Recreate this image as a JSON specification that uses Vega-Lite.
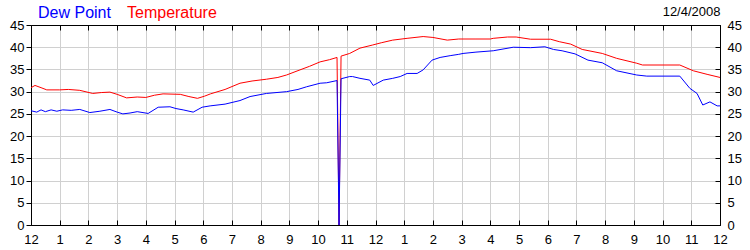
{
  "$schema": "https://vega.github.io/schema/vega-lite/v6.json",
  "width": 689,
  "height": 200,
  "autosize": {"type": "none"},
  "padding": {"left": 31, "top": 25, "right": 30, "bottom": 25},
  "background": "white",
  "config": {
    "view": {"stroke": "black", "strokeWidth": 1},
    "axis": {"labelFont": "Liberation Sans", "labelFontSize": 13, "labelColor": "black", "domainColor": "black", "tickColor": "black", "gridColor": "#d0d0d0", "gridOpacity": 1}
  },
  "data": {"values": [
    {"h": 0.0, "s": "Temperature", "v": 30.9},
    {"h": 0.14, "s": "Temperature", "v": 31.4},
    {"h": 0.35, "s": "Temperature", "v": 30.9},
    {"h": 0.55, "s": "Temperature", "v": 30.4},
    {"h": 1.0, "s": "Temperature", "v": 30.4},
    {"h": 1.3, "s": "Temperature", "v": 30.5},
    {"h": 1.7, "s": "Temperature", "v": 30.3},
    {"h": 2.15, "s": "Temperature", "v": 29.6},
    {"h": 2.45, "s": "Temperature", "v": 29.8},
    {"h": 2.75, "s": "Temperature", "v": 29.9},
    {"h": 3.0, "s": "Temperature", "v": 29.4},
    {"h": 3.33, "s": "Temperature", "v": 28.6},
    {"h": 3.7, "s": "Temperature", "v": 28.8},
    {"h": 4.0, "s": "Temperature", "v": 28.7},
    {"h": 4.3, "s": "Temperature", "v": 29.2},
    {"h": 4.6, "s": "Temperature", "v": 29.5},
    {"h": 5.2, "s": "Temperature", "v": 29.4},
    {"h": 5.5, "s": "Temperature", "v": 28.9},
    {"h": 5.8, "s": "Temperature", "v": 28.5},
    {"h": 6.05, "s": "Temperature", "v": 29.0},
    {"h": 6.25, "s": "Temperature", "v": 29.5},
    {"h": 6.76, "s": "Temperature", "v": 30.5},
    {"h": 7.28, "s": "Temperature", "v": 31.9},
    {"h": 7.7, "s": "Temperature", "v": 32.4},
    {"h": 8.2, "s": "Temperature", "v": 32.8},
    {"h": 8.6, "s": "Temperature", "v": 33.2},
    {"h": 8.9, "s": "Temperature", "v": 33.75},
    {"h": 9.37, "s": "Temperature", "v": 34.9},
    {"h": 9.7, "s": "Temperature", "v": 35.7},
    {"h": 10.07, "s": "Temperature", "v": 36.7},
    {"h": 10.4, "s": "Temperature", "v": 37.2},
    {"h": 10.66, "s": "Temperature", "v": 37.7},
    {"h": 10.73, "s": "Temperature", "v": 0},
    {"h": 10.8, "s": "Temperature", "v": 38.0},
    {"h": 11.1, "s": "Temperature", "v": 38.6},
    {"h": 11.46, "s": "Temperature", "v": 39.8},
    {"h": 11.9, "s": "Temperature", "v": 40.5},
    {"h": 12.2, "s": "Temperature", "v": 41.0},
    {"h": 12.6, "s": "Temperature", "v": 41.6},
    {"h": 13.1, "s": "Temperature", "v": 42.0},
    {"h": 13.66, "s": "Temperature", "v": 42.4},
    {"h": 14.0, "s": "Temperature", "v": 42.2},
    {"h": 14.5, "s": "Temperature", "v": 41.6},
    {"h": 14.9, "s": "Temperature", "v": 41.85},
    {"h": 15.5, "s": "Temperature", "v": 41.85},
    {"h": 16.0, "s": "Temperature", "v": 41.85},
    {"h": 16.1, "s": "Temperature", "v": 42.0},
    {"h": 16.6, "s": "Temperature", "v": 42.3},
    {"h": 16.9, "s": "Temperature", "v": 42.3},
    {"h": 17.4, "s": "Temperature", "v": 41.8},
    {"h": 18.1, "s": "Temperature", "v": 41.8},
    {"h": 18.4, "s": "Temperature", "v": 41.25},
    {"h": 18.8, "s": "Temperature", "v": 40.7},
    {"h": 19.2, "s": "Temperature", "v": 39.5},
    {"h": 19.9, "s": "Temperature", "v": 38.6},
    {"h": 20.4, "s": "Temperature", "v": 37.5},
    {"h": 21.1, "s": "Temperature", "v": 36.4},
    {"h": 21.3, "s": "Temperature", "v": 36.0},
    {"h": 22.6, "s": "Temperature", "v": 36.0},
    {"h": 23.07, "s": "Temperature", "v": 34.7},
    {"h": 23.55, "s": "Temperature", "v": 33.9},
    {"h": 24.0, "s": "Temperature", "v": 33.2},
    {"h": 0.0, "s": "Dew Point", "v": 25.7},
    {"h": 0.2, "s": "Dew Point", "v": 25.4},
    {"h": 0.35, "s": "Dew Point", "v": 25.9},
    {"h": 0.5, "s": "Dew Point", "v": 25.5},
    {"h": 0.7, "s": "Dew Point", "v": 25.9},
    {"h": 0.9, "s": "Dew Point", "v": 25.6},
    {"h": 1.1, "s": "Dew Point", "v": 25.9},
    {"h": 1.4, "s": "Dew Point", "v": 25.8},
    {"h": 1.7, "s": "Dew Point", "v": 26.0},
    {"h": 2.05, "s": "Dew Point", "v": 25.3},
    {"h": 2.4, "s": "Dew Point", "v": 25.6},
    {"h": 2.75, "s": "Dew Point", "v": 26.0},
    {"h": 3.0, "s": "Dew Point", "v": 25.4},
    {"h": 3.2, "s": "Dew Point", "v": 25.0},
    {"h": 3.45, "s": "Dew Point", "v": 25.2},
    {"h": 3.7, "s": "Dew Point", "v": 25.5},
    {"h": 4.08, "s": "Dew Point", "v": 25.1},
    {"h": 4.43, "s": "Dew Point", "v": 26.5},
    {"h": 4.84, "s": "Dew Point", "v": 26.6},
    {"h": 5.05, "s": "Dew Point", "v": 26.2},
    {"h": 5.3, "s": "Dew Point", "v": 25.9},
    {"h": 5.65, "s": "Dew Point", "v": 25.4},
    {"h": 5.96, "s": "Dew Point", "v": 26.5},
    {"h": 6.24, "s": "Dew Point", "v": 26.8},
    {"h": 6.76, "s": "Dew Point", "v": 27.2},
    {"h": 7.28, "s": "Dew Point", "v": 28.0},
    {"h": 7.63, "s": "Dew Point", "v": 28.9},
    {"h": 8.2, "s": "Dew Point", "v": 29.6},
    {"h": 8.9, "s": "Dew Point", "v": 30.0},
    {"h": 9.3, "s": "Dew Point", "v": 30.5},
    {"h": 9.6, "s": "Dew Point", "v": 31.1},
    {"h": 10.07, "s": "Dew Point", "v": 31.9},
    {"h": 10.3, "s": "Dew Point", "v": 32.0},
    {"h": 10.66, "s": "Dew Point", "v": 32.5},
    {"h": 10.73, "s": "Dew Point", "v": 0},
    {"h": 10.8, "s": "Dew Point", "v": 32.9},
    {"h": 11.1, "s": "Dew Point", "v": 33.4},
    {"h": 11.2, "s": "Dew Point", "v": 33.4},
    {"h": 11.46, "s": "Dew Point", "v": 33.0},
    {"h": 11.8, "s": "Dew Point", "v": 32.6},
    {"h": 11.92, "s": "Dew Point", "v": 31.4},
    {"h": 12.27, "s": "Dew Point", "v": 32.6},
    {"h": 12.6, "s": "Dew Point", "v": 33.0},
    {"h": 12.86, "s": "Dew Point", "v": 33.4},
    {"h": 13.1, "s": "Dew Point", "v": 34.1},
    {"h": 13.45, "s": "Dew Point", "v": 34.1},
    {"h": 13.66, "s": "Dew Point", "v": 34.9},
    {"h": 13.97, "s": "Dew Point", "v": 37.1},
    {"h": 14.25, "s": "Dew Point", "v": 37.7},
    {"h": 14.6, "s": "Dew Point", "v": 38.1},
    {"h": 14.9, "s": "Dew Point", "v": 38.4},
    {"h": 15.05, "s": "Dew Point", "v": 38.6},
    {"h": 15.5, "s": "Dew Point", "v": 38.9},
    {"h": 16.1, "s": "Dew Point", "v": 39.2},
    {"h": 16.8, "s": "Dew Point", "v": 40.0},
    {"h": 17.4, "s": "Dew Point", "v": 39.9},
    {"h": 17.9, "s": "Dew Point", "v": 40.1},
    {"h": 18.2, "s": "Dew Point", "v": 39.5},
    {"h": 18.5, "s": "Dew Point", "v": 39.2},
    {"h": 18.95, "s": "Dew Point", "v": 38.5},
    {"h": 19.4, "s": "Dew Point", "v": 37.1},
    {"h": 19.9, "s": "Dew Point", "v": 36.5},
    {"h": 20.4, "s": "Dew Point", "v": 34.7},
    {"h": 21.1, "s": "Dew Point", "v": 33.75},
    {"h": 21.45, "s": "Dew Point", "v": 33.5},
    {"h": 22.6, "s": "Dew Point", "v": 33.5},
    {"h": 22.95, "s": "Dew Point", "v": 30.75},
    {"h": 23.2, "s": "Dew Point", "v": 29.6},
    {"h": 23.4, "s": "Dew Point", "v": 27.0},
    {"h": 23.65, "s": "Dew Point", "v": 27.7},
    {"h": 23.9, "s": "Dew Point", "v": 26.8},
    {"h": 24.0, "s": "Dew Point", "v": 26.8}
  ]},
  "layer": [
    {
      "transform": [{"filter": "datum.s === 'Temperature'"}],
      "mark": {"type": "line", "strokeWidth": 1, "interpolate": "linear"},
      "encoding": {
        "x": {"field": "h", "type": "quantitative", "scale": {"domain": [0, 24], "nice": false, "zero": false},
          "axis": {"orient": "bottom", "title": null, "values": [0,1,2,3,4,5,6,7,8,9,10,11,12,13,14,15,16,17,18,19,20,21,22,23,24], "labelExpr": "datum.value % 12 === 0 ? '12' : '' + (datum.value % 12)", "tickSize": -5, "labelPadding": 13, "grid": true, "labelFlush": false, "labelOverlap": false}},
        "y": {"field": "v", "type": "quantitative", "scale": {"domain": [0, 45], "nice": false},
          "axis": {"orient": "left", "title": null, "values": [0,5,10,15,20,25,30,35,40,45], "tickSize": 5, "labelPadding": 2, "grid": true}},
        "color": {"field": "s", "type": "nominal", "scale": {"domain": ["Dew Point", "Temperature"], "range": ["#0000ff", "#ff0000"]},
          "legend": {"orient": "none", "legendX": -9, "legendY": -20, "direction": "horizontal", "title": null, "symbolSize": 0, "symbolOpacity": 0, "symbolStrokeWidth": 0, "labelOffset": 0, "columnPadding": -10, "labelFont": "Liberation Sans", "labelFontSize": 16,
            "encode": {"labels": {"update": {"fill": {"signal": "datum.value === 'Dew Point' ? '#0000ff' : '#ff0000'"}}}}}}
      }
    },
    {
      "transform": [{"filter": "datum.s === 'Dew Point'"}],
      "mark": {"type": "line", "strokeWidth": 1, "interpolate": "linear"},
      "encoding": {
        "x": {"field": "h", "type": "quantitative", "scale": {"domain": [0, 24], "nice": false, "zero": false},
          "axis": {"orient": "top", "title": "12/4/2008", "titleAnchor": "end", "titleAlign": "right", "titleFont": "Liberation Sans", "titleFontSize": 13, "titleFontWeight": "normal", "titleColor": "black", "titlePadding": 6, "values": [0,1,2,3,4,5,6,7,8,9,10,11,12,13,14,15,16,17,18,19,20,21,22,23,24], "tickSize": -5, "labels": false, "grid": false}},
        "y": {"field": "v", "type": "quantitative", "scale": {"domain": [0, 45], "nice": false},
          "axis": {"orient": "right", "title": null, "values": [0,5,10,15,20,25,30,35,40,45], "tickSize": -5, "labelPadding": 12, "grid": false}},
        "color": {"field": "s", "type": "nominal"}
      }
    }
  ],
  "resolve": {"axis": {"x": "independent", "y": "independent"}}
}
